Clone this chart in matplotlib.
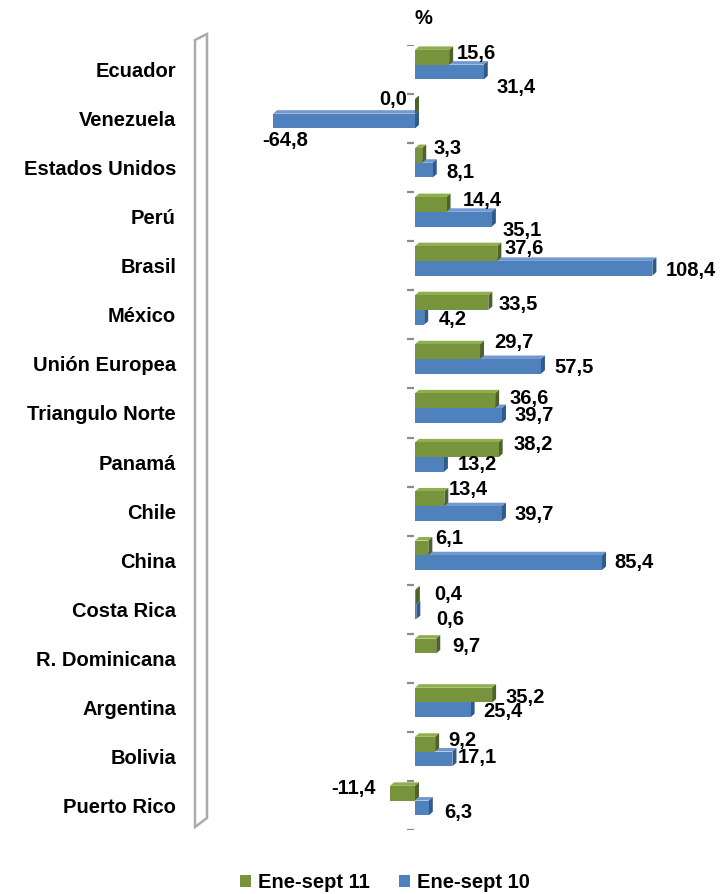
import numpy as np
import matplotlib
matplotlib.use("Agg")
import matplotlib.pyplot as plt
from matplotlib.patches import Polygon, Patch
from matplotlib import transforms

# ============================
# DATOS
# ============================
paises = ["Ecuador", "Venezuela", "Estados Unidos", "Perú", "Brasil", "México",
          "Unión Europea", "Triangulo Norte", "Panamá", "Chile", "China",
          "Costa Rica", "R. Dominicana", "Argentina", "Bolivia", "Puerto Rico"]
ene_sept_11 = [15.6, 0.0, 3.3, 14.4, 37.6, 33.5, 29.7, 36.6, 38.2, 13.4, 6.1,
               0.4, 9.7, 35.2, 9.2, -11.4]
ene_sept_10 = [31.4, -64.8, 8.1, 35.1, 108.4, 4.2, 57.5, 39.7, 13.2, 39.7, 85.4,
               0.6, np.nan, 25.4, 17.1, 6.3]

# ajuste manual de las etiquetas (px): horizontal y vertical (positivo = abajo)
dx_etq_11 = [4, 8, 7, 12, 3, 6, 10, 10, 11, 0, 3, 14, 12, 9, 9, 14]
dy_etq_11 = [-4, -7, -7, -4, -5, 2, -9, -2, -5, -9, -9, -2, 0, 2, -4, -5]
dx_etq_10 = [9, 12, 10, 7, 9, 11, 9, 9, 10, 9, 8, 16, 0, 9, 1, 11]
dy_etq_10 = [16, 19, 2, 11, 2, 2, 1, 0, 0, 1, 0, 8, 0, 2, -1, 5]

VERDE = "#77933C"
VERDE_OSC = "#4F6228"
VERDE_CLARO = "#8FAE4E"
AZUL = "#4F81BD"
AZUL_OSC = "#2F5A8C"
AZUL_CLARO = "#7199CF"
FUENTE = "Liberation Sans"

W, H = 725, 894
fig = plt.figure(figsize=(W / 100, H / 100), dpi=100)

# eje: cero en x=415 px, 2.19 px por unidad
x_min, x_max = -75, 115
esc = 2.19
izq = 415 + x_min * esc
der = 415 + x_max * esc
arriba, abajo = 45.0, 830.0
ax = fig.add_axes([izq / W, 1 - abajo / H, (der - izq) / W, (abajo - arriba) / H])
ax.set_xlim(x_min, x_max)
ax.set_ylim(len(paises) - 0.5, -0.5)
ax.axis("off")

alto = 0.3
pos_11, pos_10 = -0.25, 0.05
prof_x = 4 / esc          # profundidad 3D en unidades de datos
prof_y = 3.5 / 49.06      # en unidades de categoria


def barra_3d(y_c, v, c, c_osc, c_claro):
    if np.isnan(v):
        return
    y0, y1 = y_c - alto / 2, y_c + alto / 2
    a, b = min(0, v), max(0, v)
    # cara superior
    ax.add_patch(Polygon([(a, y0), (b, y0), (b + prof_x, y0 - prof_y), (a + prof_x, y0 - prof_y)],
                         closed=True, facecolor=c_claro, edgecolor="none", zorder=2))
    # cara lateral
    ax.add_patch(Polygon([(b, y0), (b + prof_x, y0 - prof_y), (b + prof_x, y1 - prof_y), (b, y1)],
                         closed=True, facecolor=c_osc, edgecolor="none", zorder=2))
    # cara frontal
    ax.barh(y_c, b - a, left=a, height=alto, color=c, edgecolor="none", zorder=3)


def fmt(v):
    return f"{v:.1f}".replace(".", ",")


pos = np.arange(len(paises))
for i in pos:
    barra_3d(i + pos_10, ene_sept_10[i], AZUL, AZUL_OSC, AZUL_CLARO)
    barra_3d(i + pos_11, ene_sept_11[i], VERDE, VERDE_OSC, VERDE_CLARO)

txt = dict(fontsize=14.5, fontweight="bold", family=FUENTE, color="black")

for i in pos:
    v = ene_sept_11[i]
    y = i + pos_11
    if v > 0:
        ax.annotate(fmt(v), (v + prof_x, y), xytext=(dx_etq_11[i], -dy_etq_11[i]),
                    textcoords="offset pixels", ha="left", va="center", **txt)
    else:
        # negativos y cero: a la izquierda de la barra
        ax.annotate(fmt(v), (v, y), xytext=(-dx_etq_11[i], -dy_etq_11[i]),
                    textcoords="offset pixels", ha="right", va="center", **txt)

    v = ene_sept_10[i]
    y = i + pos_10
    if np.isnan(v):
        continue
    if v >= 0:
        ax.annotate(fmt(v), (v + prof_x, y), xytext=(dx_etq_10[i], -dy_etq_10[i]),
                    textcoords="offset pixels", ha="left", va="center", **txt)
    else:
        ax.annotate(fmt(v), (v, y), xytext=(dx_etq_10[i], -dy_etq_10[i]),
                    textcoords="offset pixels", ha="center", va="center", **txt)

# marcas del eje de categorias
limites = np.arange(-0.5, len(paises), 1.0)
for yb in limites:
    ax.plot([-8 / esc, -1.5 / esc], [yb, yb], color="#8C8C8C", lw=1.6,
            solid_capstyle="butt", zorder=1)

# nombres de paises (un poco por debajo del centro de la categoria)
tr = transforms.blended_transform_factory(fig.transFigure, ax.transData)
for i, p in enumerate(paises):
    ax.annotate(p, (176 / W, i), xycoords=tr, xytext=(0, -2),
                textcoords="offset pixels", ha="right", va="center", **txt)

# pared lateral del grafico 3D
pared = [(195, 40), (207, 34), (207, 818), (195, 827)]
fig.patches.append(Polygon([(x / W, 1 - y / H) for x, y in pared], closed=True,
                           facecolor="none", edgecolor="#ABABAB", lw=1.8,
                           transform=fig.transFigure, figure=fig))

fig.text(423 / W, 1 - 18 / H, "%", ha="center", va="center", **txt)

handles = [Patch(facecolor=VERDE, label="Ene-sept 11"),
           Patch(facecolor=AZUL, label="Ene-sept 10")]
fig.legend(handles=handles, loc="center", bbox_to_anchor=(385 / W, 1 - 883 / H),
           ncol=2, frameon=False, handlelength=0.55, handleheight=0.55,
           handletextpad=0.35, columnspacing=1.45,
           prop=dict(size=14.5, weight="bold", family=FUENTE))

fig.savefig("out.png", dpi=100)
